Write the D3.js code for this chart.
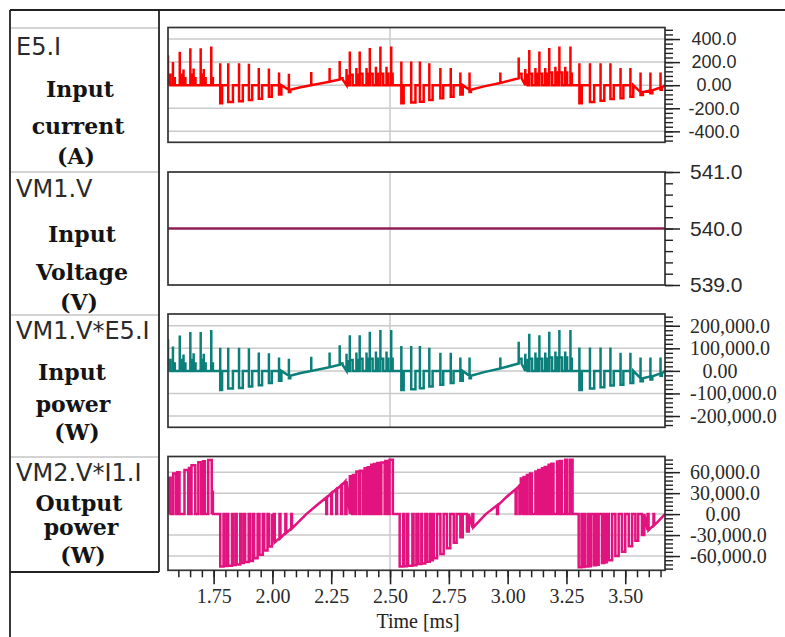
<!DOCTYPE html>
<html><head><meta charset="utf-8">
<script src="https://cdn.jsdelivr.net/npm/d3@7/dist/d3.min.js"></script>
<style>
html,body{margin:0;padding:0;background:#fff;}
svg{display:block;}
</style></head><body>
<svg id="chart" width="785" height="637"></svg>
<script>
// ================= DATA =================
const timeDomain = [1.556, 3.669];               // ms
const xMajorTicks = [1.75, 2.00, 2.25, 2.50, 2.75, 3.00, 3.25, 3.50];
const xTickLabels = ["1.75","2.00","2.25","2.50","2.75","3.00","3.25","3.50"];

// Input current E5.I [A] : switching events (start time, level before, spike top, plateau, plateau width)
const curT = [1.556,1.577,1.606,1.622,1.651,1.665,1.695,1.708,1.740,
  1.778,1.812,1.858,1.900,1.942,1.985,2.028,
  2.070,2.120,2.165,2.243,
  2.286,2.315,2.329,2.357,2.371,2.400,2.414,2.440,2.459,2.485,2.505,
  2.548,2.590,2.627,2.667,2.714,2.758,2.799,
  2.838,2.900,2.969,
  3.047,3.075,3.092,3.118,3.135,3.160,3.177,3.203,3.220,3.245,3.267,
  3.305,3.350,3.395,3.437,3.480,3.522,3.565,3.607,3.650,3.669];
const curBase = [0,0,0,0,0,0,0,0,0,
  0,0,0,0,0,0,0,
  -40,-18,0,30,
  50,0,0,0,0,0,0,0,0,0,0,
  0,0,0,0,0,0,0,
  -40,-10,20,
  60,0,0,0,0,0,0,0,0,0,0,
  0,0,0,0,0,0,-60,-45,-20,0];
const curHi = [260,200,290,135,320,145,320,140,335,
  190,190,190,185,150,145,110,
  100,-18,115,150,
  210,140,292,150,292,150,322,160,336,160,336,
  205,205,205,190,148,148,110,
  110,-10,110,
  240,140,305,150,292,150,322,160,336,160,336,
  191,191,191,191,148,148,110,110,110,0];
const curLo = [90,60,90,60,90,60,90,60,60,
  -157,-145,-140,-128,-118,-100,-80,
  -60,-18,0,30,
  60,80,90,90,100,100,100,100,100,100,100,
  -157,-150,-143,-128,-113,-100,-80,
  -60,-10,20,
  100,90,100,100,100,100,110,110,110,110,100,
  -157,-145,-135,-120,-113,-100,-85,-70,-40,0];
const curW = [0.010,0.008,0.010,0.008,0.010,0.008,0.010,0.008,0.007,
  0.008,0.020,0.016,0.014,0.014,0.012,0.010,
  0.006,0,0,0,
  0.012,0.010,0.012,0.008,0.012,0.008,0.012,0.008,0.012,0.008,0.006,
  0.010,0.018,0.016,0.014,0.012,0.012,0.010,
  0.006,0,0,
  0.012,0.010,0.012,0.008,0.012,0.008,0.012,0.008,0.012,0.008,0.006,
  0.010,0.018,0.016,0.014,0.012,0.012,0.010,0.008,0.006,0];

// Input voltage VM1.V [V]
const volT = [1.556, 3.669];
const volV = [540, 540];

// Input power VM1.V*E5.I [W] (same switching instants as curT / curW)
const pwrBase = [0,0,0,0,0,0,0,0,0,
  0,0,0,0,0,0,0,
  -21600,-9700,0,16200,
  27000,0,0,0,0,0,0,0,0,0,0,
  0,0,0,0,0,0,0,
  -21600,-5400,10800,
  32400,0,0,0,0,0,0,0,0,0,0,
  0,0,0,0,0,0,-32400,-24300,-10800,0];
const pwrHi = [140400,108000,156600,72900,172800,78300,172800,75600,180900,
  102600,102600,102600,99900,81000,78300,59400,
  54000,-9700,62100,81000,
  113400,75600,157700,81000,157700,81000,173900,86400,181400,86400,181400,
  110700,110700,110700,102600,79900,79900,59400,
  59400,-5400,59400,
  129600,75600,164700,81000,157700,81000,173900,86400,181400,86400,181400,
  103100,103100,103100,103100,79900,79900,59400,59400,59400,0];
const pwrLo = [48600,32400,48600,32400,48600,32400,48600,32400,32400,
  -84800,-78300,-75600,-69100,-63700,-54000,-43200,
  -32400,-9700,0,16200,
  32400,43200,48600,48600,54000,54000,54000,54000,54000,54000,54000,
  -84800,-81000,-77200,-69100,-61000,-54000,-43200,
  -32400,-5400,10800,
  54000,48600,54000,54000,54000,54000,59400,59400,59400,59400,54000,
  -84800,-78300,-72900,-64800,-61000,-54000,-45900,-37800,-21600,0];

// Output power VM2.V*I1.I [W]
const outT = [1.557,1.578,1.595,1.626,1.645,1.656,1.685,1.705,1.727,1.742,
  1.778,1.797,1.812,1.833,1.848,1.868,1.884,1.905,1.922,1.945,1.965,1.985,
  2.005,2.030,2.055,2.080,2.110,2.144,2.186,2.229,2.250,2.271,2.292,2.310,
  2.329,2.342,2.357,2.372,2.392,2.405,2.420,2.432,2.446,2.463,2.480,2.498,
  2.541,2.560,2.577,2.600,2.621,2.636,2.657,2.672,2.686,2.714,2.742,2.771,2.799,2.827,
  2.850,2.878,2.907,2.955,2.993,3.034,3.050,
  3.056,3.068,3.082,3.095,3.118,3.130,3.146,3.158,3.174,3.186,3.210,3.222,3.245,3.266,
  3.302,3.316,3.330,3.344,3.366,3.378,3.401,3.413,3.430,3.458,3.486,3.515,3.543,3.571,
  3.595,3.620,3.640,3.669];
const outBase = [0,0,0,0,0,0,0,0,0,0,
  0,0,0,0,0,0,0,0,0,0,0,0,
  -40500,-34300,-27000,-20500,-11500,0,11900,23800,30000,35700,41500,47000,
  0,0,0,0,0,0,0,0,0,0,0,0,
  0,0,0,0,0,0,0,0,0,0,0,0,0,0,
  -19000,-10500,0,12500,23800,35700,41000,
  0,0,0,0,0,0,0,0,0,0,0,0,0,0,
  0,0,0,0,0,0,0,0,0,0,0,0,0,0,
  -23000,-16000,-10500,0];
const outHi = [52000,58000,60000,63000,66000,70000,74000,75500,77500,77500,
  -74800,-74300,-73800,-72800,-72000,-70000,-68500,-67000,-63000,-58000,-52000,-46500,
  0,0,0,0,-11500,0,11900,0,0,0,0,0,
  54000,56000,61000,62000,65700,67000,70500,71500,73000,73800,76000,77600,
  -74800,-74500,-74000,-73000,-71500,-70500,-68000,-66000,-63000,-57000,-49000,-41000,-33000,-25000,
  0,-10500,0,0,23800,0,0,
  51000,53000,56000,58000,61000,63000,65700,67500,70500,72000,75200,76000,77600,77600,
  -76000,-75500,-75000,-74500,-73000,-72500,-70000,-69000,-66000,-60000,-54000,-46000,-38000,-30000,
  0,0,-10500,0];
const outLo = [52000,58000,60000,63000,66000,70000,74000,75500,77500,32000,
  -74800,-74300,-73800,-72800,-72000,-70000,-68500,-67000,-63000,-58000,-52000,-46500,
  0,0,0,0,-11500,0,11900,0,0,0,0,0,
  54000,56000,61000,62000,65700,67000,70500,71500,73000,73800,76000,77600,
  -74800,-74500,-74000,-73000,-71500,-70500,-68000,-66000,-63000,-57000,-49000,-41000,-33000,-25000,
  0,-10500,0,0,23800,0,0,
  51000,53000,56000,58000,61000,63000,65700,67500,70500,72000,75200,76000,77600,77600,
  -76000,-75500,-75000,-74500,-73000,-72500,-70000,-69000,-66000,-60000,-54000,-46000,-38000,-30000,
  0,0,-10500,0];
const outW = [0.010,0.012,0.010,0.016,0.008,0.016,0.012,0.008,0.015,0.005,
  0.014,0.011,0.016,0.011,0.015,0.011,0.015,0.012,0.015,0.014,0.014,0.013,
  0.005,0.004,0.004,0.003,0,0,0,0.003,0.003,0.004,0.004,0.005,
  0.010,0.008,0.012,0.012,0.010,0.009,0.009,0.010,0.008,0.014,0.010,0.014,
  0.015,0.012,0.018,0.012,0.012,0.014,0.012,0.010,0.014,0.014,0.014,0.012,0.010,0.008,
  0.004,0,0,0.004,0,0.004,0.004,
  0.010,0.007,0.011,0.008,0.010,0.009,0.010,0.008,0.010,0.009,0.010,0.009,0.009,0.010,
  0.012,0.010,0.012,0.010,0.010,0.009,0.010,0.009,0.014,0.014,0.014,0.014,0.012,0.010,
  0.004,0.003,0,0];

// Y tick values and labels
const curTicks = [-400,-200,0,200,400];
const curTickLabels = ["-400.0","-200.0","0.00","200.0","400.0"];
const volTicks = [539,540,541];
const volTickLabels = ["539.0","540.0","541.0"];
const pwrTicks = [-200000,-100000,0,100000,200000];
const pwrTickLabels = ["-200,000.0","-100,000.0","0.00","100,000.0","200,000.0"];
const outTicks = [-60000,-30000,0,30000,60000];
const outTickLabels = ["-60,000.0","-30,000.0","0.00","30,000.0","60,000.0"];

// Left column labels
const signalNames = ["E5.I","VM1.V","VM1.V*E5.I","VM2.V*I1.I"];
const signalDescriptions = [["Input","current","(A)"],["Input","Voltage","(V)"],["Input","power","(W)"],["Output","power","(W)"]];
const xAxisTitle = "Time [ms]";

// ================= DRAWING =================
function pulsePoints(T, B, H, L, W) {
  const pts = [];
  for (let i = 0; i < T.length; i++) {
    pts.push([T[i], B[i]]);
    if (H[i] !== B[i]) pts.push([T[i], H[i]]);
    if (L[i] !== H[i]) pts.push([T[i], L[i]]);
    if (W[i] > 0) { pts.push([T[i] + W[i], L[i]]); pts.push([T[i] + W[i], B[i]]); }
    else if (L[i] !== B[i]) pts.push([T[i], B[i]]);
  }
  return pts;
}

const svg = d3.select("#chart");
const X0 = 168, X1 = 665;
const x = d3.scaleLinear().domain(timeDomain).range([X0, X1]);
const SANS = "'Liberation Sans', Arial, sans-serif";
const SERIF = "'Liberation Serif', 'Times New Roman', serif";

const panels = [
  {top:27.5, bottom:142.3, domain:[-495,500], ticks:curTicks, labels:curTickLabels,
   minor:d3.range(-480,481,40), color:"#ff0000", sw:2.5, font:SANS, fs:18, lx:714, anchor:"middle", zx:714, grid:true,
   pts:pulsePoints(curT,curBase,curHi,curLo,curW)},
  {top:172, bottom:285, domain:[539,541], ticks:volTicks, labels:volTickLabels,
   minor:d3.range(539,541.01,0.2), color:"#8e1f55", sw:2.6, font:SANS, fs:21, lx:690, anchor:"start", zx:690, grid:false,
   pts:volT.map((t,i)=>[t, volV[i]])},
  {top:314, bottom:427.3, domain:[-250000,252000], ticks:pwrTicks, labels:pwrTickLabels,
   minor:d3.range(-240000,240001,20000), color:"#0b807b", sw:2.5, font:SERIF, fs:20, lx:690, anchor:"start", zx:720, grid:true,
   pts:pulsePoints(curT,pwrBase,pwrHi,pwrLo,curW)},
  {top:456.5, bottom:570.3, domain:[-80400,82400], ticks:outTicks, labels:outTickLabels,
   minor:d3.range(-78000,78001,6000), color:"#e2127f", sw:2.5, font:SERIF, fs:20, lx:690, anchor:"start", zx:723, grid:true,
   pts:pulsePoints(outT,outBase,outHi,outLo,outW)}
];

// frame lines
const frame = svg.append("g").attr("stroke","#222").attr("stroke-width",1.8);
frame.append("line").attr("x1",10).attr("x2",785).attr("y1",10).attr("y2",10);
frame.append("line").attr("x1",10).attr("x2",10).attr("y1",10).attr("y2",637);
frame.append("line").attr("x1",159).attr("x2",159).attr("y1",10).attr("y2",572);
frame.append("line").attr("x1",10).attr("x2",159).attr("y1",572).attr("y2",572);
[28,172,315,457].forEach(yy => {
  svg.append("line").attr("x1",11).attr("x2",158).attr("y1",yy).attr("y2",yy)
    .attr("stroke","#c4c4c4").attr("stroke-width",1.5);
});

panels.forEach((p, k) => {
  const y = d3.scaleLinear().domain(p.domain).range([p.bottom, p.top]);
  const g = svg.append("g");
  g.append("clipPath").attr("id","clip"+k).append("rect")
    .attr("x",X0).attr("y",p.top).attr("width",X1-X0).attr("height",p.bottom-p.top);
  if (p.grid) {
    g.selectAll(".hg").data(p.ticks).join("line")
      .attr("x1",X0).attr("x2",X1).attr("y1",d=>y(d)).attr("y2",d=>y(d))
      .attr("stroke","#cacaca").attr("stroke-width",1.5);
  }
  g.append("line").attr("x1",x(2.5)).attr("x2",x(2.5)).attr("y1",p.top).attr("y2",p.bottom)
    .attr("stroke","#cacaca").attr("stroke-width",1.5);
  g.append("path").datum(p.pts)
    .attr("clip-path","url(#clip"+k+")")
    .attr("fill","none").attr("stroke",p.color).attr("stroke-width",p.sw)
    .attr("stroke-linejoin","miter")
    .attr("d", d3.line().x(d=>x(d[0])).y(d=>y(d[1])));
  g.append("rect").attr("x",X0).attr("y",p.top).attr("width",X1-X0).attr("height",p.bottom-p.top)
    .attr("fill","none").attr("stroke","#333").attr("stroke-width",1.7);

  // minor ticks
  const mi = g.append("g").attr("transform",`translate(${X1},0)`)
    .call(d3.axisRight(y).tickValues(p.minor).tickSize(8).tickFormat(""));
  mi.select(".domain").remove();
  mi.selectAll("line").attr("stroke","#222").attr("stroke-width",1.4);
  // major ticks
  const ma = g.append("g").attr("transform",`translate(${X1},0)`)
    .call(d3.axisRight(y).tickValues(p.ticks).tickSize(15).tickFormat((d,i)=>p.labels[i]));
  ma.select(".domain").remove();
  ma.selectAll("line").attr("stroke","#222").attr("stroke-width",1.5);
  ma.selectAll("text")
    .attr("x", d => (d === 0 ? p.zx : p.lx) - X1)
    .attr("text-anchor", d => d === 0 && p.zx !== p.lx ? "middle" : p.anchor)
    .attr("font-family", p.font).attr("font-size", p.fs).attr("fill","#2a2a2a");
  ma.attr("font-family", p.font).attr("font-size", p.fs);
});

// bottom time axis
const yAx = 570.3;
const xMinor = d3.range(1.60, 3.651, 0.05);
const axm = svg.append("g").attr("transform",`translate(0,${yAx})`)
  .call(d3.axisBottom(x).tickValues(xMinor).tickSize(7).tickFormat(""));
axm.select(".domain").remove();
axm.selectAll("line").attr("stroke","#222").attr("stroke-width",1.5);
const axM = svg.append("g").attr("transform",`translate(0,${yAx})`)
  .call(d3.axisBottom(x).tickValues(xMajorTicks).tickSize(14).tickFormat((d,i)=>xTickLabels[i]));
axM.select(".domain").remove();
axM.selectAll("line").attr("stroke","#222").attr("stroke-width",1.6);
axM.selectAll("text").attr("y",33).attr("dy",0)
  .attr("font-family",SERIF).attr("font-size",20).attr("fill","#2a2a2a");
svg.append("text").attr("x",418).attr("y",628).attr("text-anchor","middle")
  .attr("font-family",SERIF).attr("font-size",20).attr("fill","#222").text(xAxisTitle);

// left column labels
const nameBase = [55,197,339,481];
const descPos = [
  [[80,97],[78,134],[76,164]],
  [[82,242],[82,280],[79,310]],
  [[72,380],[73,412],[77,440]],
  [[79,511],[81,535],[83,563]]
];
signalNames.forEach((n,i) => {
  svg.append("text").attr("x",16).attr("y",nameBase[i])
    .attr("font-family","'DejaVu Sans', Verdana, sans-serif").attr("font-size",24).attr("fill","#2a2a2a").text(n);
  signalDescriptions[i].forEach((s,j) => {
    svg.append("text").attr("x",descPos[i][j][0]).attr("y",descPos[i][j][1])
      .attr("text-anchor","middle").attr("font-family","'DejaVu Serif', serif")
      .attr("font-weight","bold").attr("font-size",22).attr("fill","#141414").text(s);
  });
});
</script>
</body></html>
